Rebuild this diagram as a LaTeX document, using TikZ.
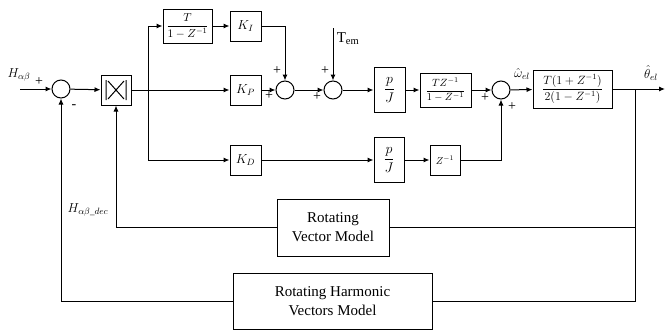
\RequirePackage{fix-cm}
\documentclass[tikz,border=0pt]{standalone}
\usepackage{amsmath}
\usepackage{fontspec}
\setmainfont{Liberation Serif}
\usetikzlibrary{arrows.meta}

\begin{document}
\begin{tikzpicture}[x=1pt,y=-1pt,
  blk/.style={draw, line width=1pt, inner sep=0pt, font=\fontsize{13}{15}\selectfont},
  sumnode/.style={draw, line width=1pt, circle, minimum size=18pt, inner sep=0pt},
  sig/.style={line width=1pt, -{Latex[length=6pt,width=5pt]}},
  ln/.style={line width=1pt},
  sgn/.style={font=\fontsize{14}{14}\selectfont, inner sep=0pt},
  lbl/.style={font=\fontsize{13}{15}\selectfont, inner sep=0pt}
]
\useasboundingbox (0,0) rectangle (665,330);

% forward path
\node[sumnode] (s1) at (61,89) {};
\node[blk, minimum width=30pt, minimum height=30pt] (mul) at (116,90) {};
\draw[ln] (106,80) -- (106,100) (126,80) -- (126,100)
  (108,81) -- (124,99) (108,99) -- (124,81);
\node[blk, minimum width=49pt, minimum height=34pt, font=\fontsize{11.5}{13}\selectfont] (int) at (187.5,26) {$\dfrac{T}{1-Z^{-1}}$};
\node[blk, minimum width=31pt, minimum height=30pt] (ki) at (245.5,26) {$K_I$};
\node[blk, minimum width=31pt, minimum height=30pt] (kp) at (245.5,90) {$K_P$};
\node[sumnode] (s2) at (285,90) {};
\node[sumnode] (s3) at (333,90) {};
\node[blk, minimum width=31pt, minimum height=45pt, font=\fontsize{14}{16}\selectfont] (pj1) at (389.5,90) {$\dfrac{p}{J}$};
\node[blk, minimum width=51pt, minimum height=34pt, font=\fontsize{10.5}{12}\selectfont] (tz) at (445.5,90) {$\dfrac{TZ^{-1}}{1-Z^{-1}}$};
\node[sumnode] (s4) at (501,90) {};
\node[blk, minimum width=79pt, minimum height=38pt, font=\fontsize{12}{14}\selectfont] (th) at (572.5,89) {$\dfrac{T(1+Z^{-1})}{2(1-Z^{-1})}$};

% derivative path
\node[blk, minimum width=31pt, minimum height=30pt] (kd) at (245.5,160) {$K_D$};
\node[blk, minimum width=30pt, minimum height=45pt, font=\fontsize{14}{16}\selectfont] (pj2) at (389,160) {$\dfrac{p}{J}$};
\node[blk, minimum width=30pt, minimum height=30pt, font=\fontsize{10}{12}\selectfont] (zi) at (445,160) {$Z^{-1}$};

% models
\node[blk, minimum width=112pt, minimum height=57pt, align=center, font=\fontsize{15}{19}\selectfont] (rvm) at (333,227.5) {Rotating\\Vector Model};
\node[blk, minimum width=199pt, minimum height=56pt, align=center, font=\fontsize{15}{19}\selectfont] (rhv) at (332.5,301) {Rotating Harmonic\\Vectors Model};

\coordinate (in) at (20,89);
\coordinate (out) at (665,89);
\coordinate (b1) at (148,90);
\coordinate (b2) at (635,89);
\coordinate (tem) at (333,28);

\draw[sig] (in) -- (s1);
\draw[sig] (s1) -- (mul);
\draw[sig] (mul) -- (kp);
\draw[sig] (b1) |- (int);
\draw[sig] (b1) |- (kd);
\draw[sig] (int) -- (ki);
\draw[sig] (ki) -| (s2);
\draw[sig] (kp) -- (s2);
\draw[sig] (s2) -- (s3);
\draw[sig] (tem) -- (s3);
\draw[sig] (s3) -- (pj1);
\draw[sig] (pj1) -- (tz);
\draw[sig] (tz) -- (s4);
\draw[sig] (s4) -- (th);
\draw[sig] (th) -- (out);
\draw[sig] (kd) -- (pj2);
\draw[sig] (pj2) -- (zi);
\draw[sig] (zi) -| (s4);
\draw[ln] (b2) |- (rvm);
\draw[ln] (b2) |- (rhv);
\draw[sig] (rvm) -| (mul);
\draw[sig] (rhv) -| (s1);

% labels and signs
\node[lbl] (hin) at (19,75) {$H_{\alpha\beta}$};
\node[lbl] (hdec) at (88,210) {$H_{\alpha\beta\_dec}$};
\node[lbl, font=\fontsize{15}{17}\selectfont] (temlbl) at (348,39) {T$_{\mathrm{em}}$};
\node[lbl] (wel) at (522,74) {$\hat{\omega}_{el}$};
\node[lbl] (thel) at (651,73) {$\hat{\theta}_{el}$};
\node[sgn] at (39,82) {+};
\node[sgn] at (74,107) {-};
\node[sgn] at (277,71) {+};
\node[sgn] at (269,96) {+};
\node[sgn] at (325,71) {+};
\node[sgn] at (317,97) {+};
\node[sgn] at (485,98) {+};
\node[sgn] at (512,107) {+};
\end{tikzpicture}
\end{document}
